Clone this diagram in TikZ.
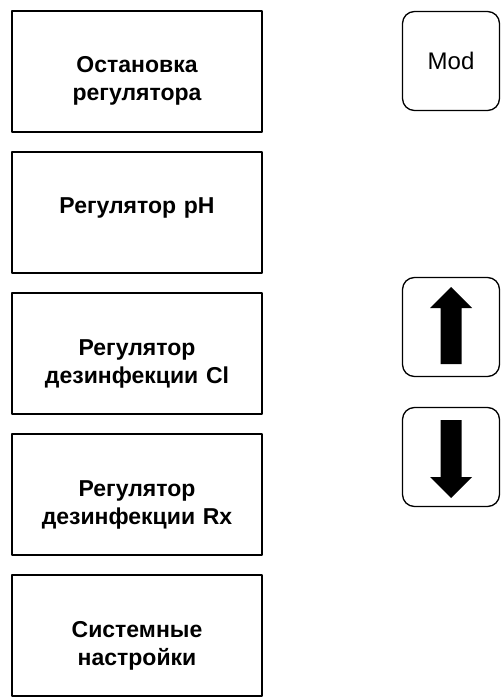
\documentclass[tikz,border=0pt]{standalone}
\usepackage{fontspec}
\setmainfont{Liberation Sans}

\begin{document}
\begin{tikzpicture}[line cap=round,line join=round,x=1pt,y=-1pt]
    \tikzset{
        menubox/.style={draw, line width=1.7pt, minimum width=250pt, minimum height=121pt,
            text width=240pt, align=center, text height=20pt, text depth=17pt,
            font=\bfseries\fontsize{23}{28}\selectfont},
        keybox/.style={draw, line width=1.3pt, rounded corners=12pt, minimum width=97pt,
            minimum height=99pt, font=\fontsize{24}{28}\selectfont}
    }
    \useasboundingbox (0,0) rectangle (501,700);

    % Menu entries
    \node[menubox] (stop) at (137,71.5) {Остановка\\регулятора};
    \node[menubox] (ph) at (137,212.5) {Регулятор pH};
    \node[menubox] (cl) at (137,353.5) {Регулятор\\дезинфекции Cl};
    \node[menubox] (rx) at (137,494.5) {Регулятор\\дезинфекции Rx};
    \node[menubox] (sys) at (137,635.5) {Системные\\настройки};

    % Keys
    \node[keybox] (mod) at (451,61) {Mod};
    \node[keybox] (up) at (451,327) {};
    \node[keybox] (down) at (451,457) {};

    % Arrows on the keys
    \fill[shift={(up.center)}] (0,-40) -- (21,-19) -- (10.5,-19) -- (10.5,37) -- (-10.5,37) -- (-10.5,-19) -- (-21,-19) -- cycle;
    \fill[shift={(down.center)}] (0,41) -- (21,20) -- (10.5,20) -- (10.5,-37) -- (-10.5,-37) -- (-10.5,20) -- (-21,20) -- cycle;
\end{tikzpicture}
\end{document}
